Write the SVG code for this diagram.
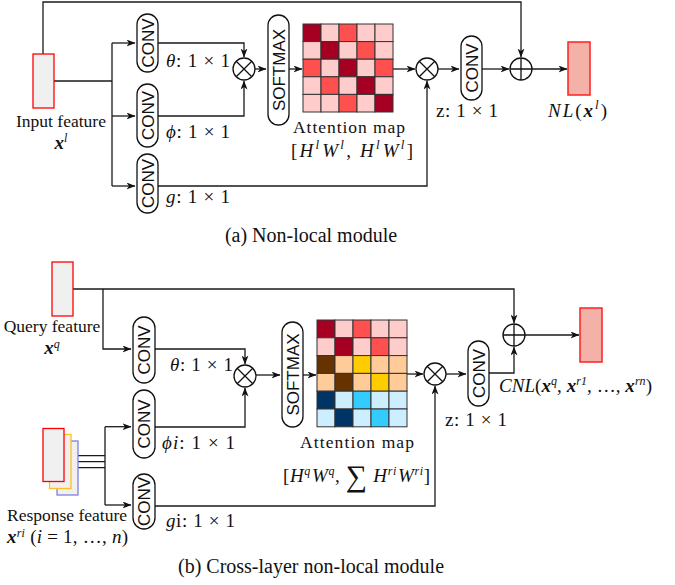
<svg xmlns="http://www.w3.org/2000/svg" width="675" height="585" viewBox="0 0 675 585">
<defs>
<marker id="ah" markerWidth="9" markerHeight="7" refX="8.5" refY="3.5" orient="auto" markerUnits="userSpaceOnUse"><path d="M0,0 L9,3.5 L0,7 L2.5,3.5 z" fill="#111"/></marker>
</defs>
<style>
.ln{fill:none;stroke:#1a1a1a;stroke-width:1.3}
.ar{marker-end:url(#ah)}
.pill{fill:#fff;stroke:#111;stroke-width:1.3}
.cv{font-family:"Liberation Sans",Arial,sans-serif;font-size:17px;fill:#111;text-anchor:middle}
.op{fill:#fff;stroke:#111;stroke-width:1.3}
.opl{stroke:#111;stroke-width:1.3}
.lbl{font-family:"Liberation Serif","Times New Roman",serif;font-size:17.5px;fill:#111;text-anchor:middle}
.cap{font-family:"Liberation Serif","Times New Roman",serif;font-size:20px;fill:#111;text-anchor:middle}
.m{font-family:"Liberation Serif","Times New Roman",serif;font-size:19px;fill:#111}
.i{font-style:italic}
.bi{font-style:italic;font-weight:bold}
.feat{fill:#f0f0f0;stroke:#ff0000;stroke-width:1.3}
.fy{fill:#f0f0f0;stroke:#ffc020;stroke-width:1.3}
.fb{fill:#f0f0f0;stroke:#8080e0;stroke-width:1.3}
.out{fill:#f4b1a8;stroke:#ff2020;stroke-width:1.5}
.grid rect{stroke:#333;stroke-width:1}
.D{fill:#a50021}.L{fill:#ffcccc}.M{fill:#ff5050}.B{fill:#663300}.P{fill:#ffcc99}.Y{fill:#ffcc00}.N{fill:#003366}.LB{fill:#cceeff}.C{fill:#33ccff}
</style>
<rect width="675" height="585" fill="#fff"/>

<!-- ===== (a) Non-local module ===== -->
<g id="connectors-a">
<path class="ln ar" d="M43,54 V2 H521 V57"/>
<path class="ln" d="M54,81 H112 M112,43 V186"/>
<path class="ln ar" d="M112,43 H135"/>
<path class="ln ar" d="M112,116 H135"/>
<path class="ln ar" d="M112,186 H135"/>
<path class="ln ar" d="M158,43 H244 V57"/>
<path class="ln ar" d="M158,116 H244 V81"/>
<path class="ln ar" d="M255,69 H266"/>
<path class="ln ar" d="M289,69 H302"/>
<path class="ln ar" d="M393,69 H415"/>
<path class="ln ar" d="M158,186 H427 V81"/>
<path class="ln ar" d="M438,69 H459"/>
<path class="ln ar" d="M482,69 H509"/>
<path class="ln ar" d="M532,69 H567"/>
</g>

<g id="input-a">
<rect class="feat" x="33" y="54" width="21" height="54"/>
<text class="lbl" x="61" y="127">Input feature</text>
<text class="lbl" x="61" y="149"><tspan class="bi" font-size="19">x</tspan><tspan class="i" font-size="12" dy="-7">l</tspan></text>
</g>

<g id="conv-theta-a">
<rect class="pill" x="137" y="14" width="21" height="58" rx="10.5"/>
<text class="cv" transform="translate(147.5,43) rotate(-90)" y="6">CONV</text>
<text class="m" x="166" y="67" textLength="64"><tspan class="i">θ</tspan>: 1 × 1</text>
</g>
<g id="conv-phi-a">
<rect class="pill" x="137" y="84" width="21" height="63" rx="10.5"/>
<text class="cv" transform="translate(147.5,115.5) rotate(-90)" y="6">CONV</text>
<text class="m" x="166" y="138" textLength="64"><tspan class="i">ϕ</tspan>: 1 × 1</text>
</g>
<g id="conv-g-a">
<rect class="pill" x="137" y="154" width="21" height="59" rx="10.5"/>
<text class="cv" transform="translate(147.5,183.5) rotate(-90)" y="6">CONV</text>
<text class="m" x="166" y="203" textLength="64"><tspan class="i">g</tspan>: 1 × 1</text>
</g>

<g id="mul1-a">
<circle class="op" cx="244" cy="69" r="11"/>
<path class="opl" d="M236.2,61.2 L251.8,76.8 M251.8,61.2 L236.2,76.8"/>
</g>

<g id="softmax-a">
<rect class="pill" x="268" y="15" width="21" height="110" rx="10.5"/>
<text class="cv" transform="translate(278.5,70) rotate(-90)" y="6">SOFTMAX</text>
</g>

<g id="attention-a">
<g class="grid">
<rect class="D" x="303" y="24" width="18" height="17.6"/><rect class="L" x="321" y="24" width="18" height="17.6"/><rect class="M" x="339" y="24" width="18" height="17.6"/><rect class="L" x="357" y="24" width="18" height="17.6"/><rect class="L" x="375" y="24" width="18" height="17.6"/>
<rect class="L" x="303" y="41.6" width="18" height="17.6"/><rect class="D" x="321" y="41.6" width="18" height="17.6"/><rect class="L" x="339" y="41.6" width="18" height="17.6"/><rect class="M" x="357" y="41.6" width="18" height="17.6"/><rect class="L" x="375" y="41.6" width="18" height="17.6"/>
<rect class="M" x="303" y="59.2" width="18" height="17.6"/><rect class="L" x="321" y="59.2" width="18" height="17.6"/><rect class="D" x="339" y="59.2" width="18" height="17.6"/><rect class="L" x="357" y="59.2" width="18" height="17.6"/><rect class="M" x="375" y="59.2" width="18" height="17.6"/>
<rect class="L" x="303" y="76.8" width="18" height="17.6"/><rect class="M" x="321" y="76.8" width="18" height="17.6"/><rect class="L" x="339" y="76.8" width="18" height="17.6"/><rect class="D" x="357" y="76.8" width="18" height="17.6"/><rect class="L" x="375" y="76.8" width="18" height="17.6"/>
<rect class="L" x="303" y="94.4" width="18" height="17.6"/><rect class="L" x="321" y="94.4" width="18" height="17.6"/><rect class="M" x="339" y="94.4" width="18" height="17.6"/><rect class="L" x="357" y="94.4" width="18" height="17.6"/><rect class="D" x="375" y="94.4" width="18" height="17.6"/>
</g>
<text class="lbl" x="349" y="133" font-size="20" textLength="112">Attention map</text>
<text class="m" x="291" y="157" font-size="20" textLength="122">[<tspan class="i">H</tspan><tspan class="i" font-size="13" dy="-8">l</tspan><tspan class="i" dy="8" dx="1">W</tspan><tspan class="i" font-size="13" dy="-8">l</tspan><tspan dy="8">, </tspan><tspan class="i">H</tspan><tspan class="i" font-size="13" dy="-8">l</tspan><tspan class="i" dy="8" dx="1">W</tspan><tspan class="i" font-size="13" dy="-8">l</tspan><tspan dy="8">]</tspan></text>
</g>

<g id="mul2-a">
<circle class="op" cx="427" cy="69" r="11"/>
<path class="opl" d="M419.2,61.2 L434.8,76.8 M434.8,61.2 L419.2,76.8"/>
</g>

<g id="conv-z-a">
<rect class="pill" x="461" y="36" width="21" height="64" rx="10.5"/>
<text class="cv" transform="translate(471.5,68) rotate(-90)" y="6">CONV</text>
<text class="m" x="436" y="117" textLength="62">z: 1 × 1</text>
</g>

<g id="add-a">
<circle class="op" cx="521" cy="69" r="11"/>
<path class="opl" d="M510,69 H532 M521,58 V80"/>
</g>

<g id="output-a">
<rect class="out" x="568" y="42" width="22" height="53"/>
<text class="m" x="548" y="117" font-size="20" textLength="59"><tspan class="i">NL</tspan>(<tspan class="bi">x</tspan><tspan class="i" font-size="13" dy="-8">l</tspan><tspan dy="8">)</tspan></text>
</g>

<text class="cap" x="311" y="242">(a) Non-local module</text>

<!-- ===== (b) Cross-layer non-local module ===== -->
<g id="connectors-b">
<path class="ln ar" d="M73,289 H514 V323"/>
<path class="ln ar" d="M103,289 V349 H131"/>
<path class="ln" d="M64,455.7 H105 M71,461.7 H105 M78,467.7 H105 M105,468 V505"/>
<path class="ln" stroke-width="2" d="M105,468 V426.7"/>
<path class="ln ar" stroke-width="2" d="M105,426.7 H131"/>
<path class="ln ar" d="M105,505 H131"/>
<path class="ln ar" d="M155,349 H245 V364"/>
<path class="ln ar" d="M155,427 H245 V388"/>
<path class="ln ar" d="M256,375 H280"/>
<path class="ln ar" d="M303,375 H316"/>
<path class="ln ar" d="M407,374 H423"/>
<path class="ln ar" d="M155,506 H435 V386"/>
<path class="ln ar" d="M446,374 H466"/>
<path class="ln ar" d="M489,373 H514 V347"/>
<path class="ln ar" d="M525,335 H579"/>
</g>

<g id="query-b">
<rect class="feat" x="52" y="262" width="21" height="54"/>
<text class="lbl" x="52" y="332">Query feature</text>
<text class="lbl" x="52" y="354"><tspan class="bi" font-size="19">x</tspan><tspan class="i" font-size="12" dy="-6">q</tspan></text>
</g>

<g id="response-b">
<rect class="fb" x="57" y="441" width="21" height="54"/>
<rect class="fy" x="49.5" y="434.5" width="21.5" height="54"/>
<rect class="feat" x="43" y="428.5" width="21" height="53"/>
<text class="lbl" x="67" y="521">Response feature</text>
<text class="m" x="7" y="543" textLength="121" font-size="18"><tspan class="bi">x</tspan><tspan class="i" font-size="12" dy="-6">ri</tspan><tspan dy="6"> (</tspan><tspan class="i">i</tspan>  = 1, …, <tspan class="i">n</tspan>)</text>
</g>

<g id="conv-theta-b">
<rect class="pill" x="133" y="317" width="22" height="66" rx="11"/>
<text class="cv" transform="translate(144,350) rotate(-90)" y="6">CONV</text>
<text class="m" x="170" y="371" textLength="63"><tspan class="i">θ</tspan>: 1 × 1</text>
</g>
<g id="conv-phi-b">
<rect class="pill" x="133" y="390" width="22" height="68" rx="11"/>
<text class="cv" transform="translate(144,424) rotate(-90)" y="6">CONV</text>
<text class="m" x="162" y="449" textLength="73"><tspan class="i">ϕi</tspan>: 1 × 1</text>
</g>
<g id="conv-g-b">
<rect class="pill" x="133" y="474" width="22" height="55" rx="11"/>
<text class="cv" transform="translate(144,501.5) rotate(-90)" y="6">CONV</text>
<text class="m" x="166" y="527" textLength="69"><tspan class="i">g</tspan>i: 1 × 1</text>
</g>

<g id="mul1-b">
<circle class="op" cx="245" cy="376" r="11"/>
<path class="opl" d="M237.2,368.2 L252.8,383.8 M252.8,368.2 L237.2,383.8"/>
</g>

<g id="softmax-b">
<rect class="pill" x="282" y="322" width="21" height="105" rx="10.5"/>
<text class="cv" transform="translate(292.5,374.5) rotate(-90)" y="6">SOFTMAX</text>
</g>

<g id="attention-b">
<g class="grid">
<rect class="D" x="317" y="320" width="18" height="17.8"/><rect class="L" x="335" y="320" width="18" height="17.8"/><rect class="M" x="353" y="320" width="18" height="17.8"/><rect class="L" x="371" y="320" width="18" height="17.8"/><rect class="L" x="389" y="320" width="18" height="17.8"/>
<rect class="L" x="317" y="337.8" width="18" height="17.8"/><rect class="D" x="335" y="337.8" width="18" height="17.8"/><rect class="L" x="353" y="337.8" width="18" height="17.8"/><rect class="M" x="371" y="337.8" width="18" height="17.8"/><rect class="L" x="389" y="337.8" width="18" height="17.8"/>
<rect class="B" x="317" y="355.6" width="18" height="17.8"/><rect class="P" x="335" y="355.6" width="18" height="17.8"/><rect class="Y" x="353" y="355.6" width="18" height="17.8"/><rect class="P" x="371" y="355.6" width="18" height="17.8"/><rect class="P" x="389" y="355.6" width="18" height="17.8"/>
<rect class="P" x="317" y="373.4" width="18" height="17.8"/><rect class="B" x="335" y="373.4" width="18" height="17.8"/><rect class="P" x="353" y="373.4" width="18" height="17.8"/><rect class="Y" x="371" y="373.4" width="18" height="17.8"/><rect class="P" x="389" y="373.4" width="18" height="17.8"/>
<rect class="N" x="317" y="391.2" width="18" height="17.8"/><rect class="LB" x="335" y="391.2" width="18" height="17.8"/><rect class="C" x="353" y="391.2" width="18" height="17.8"/><rect class="LB" x="371" y="391.2" width="18" height="17.8"/><rect class="LB" x="389" y="391.2" width="18" height="17.8"/>
<rect class="LB" x="317" y="409" width="18" height="17.8"/><rect class="N" x="335" y="409" width="18" height="17.8"/><rect class="LB" x="353" y="409" width="18" height="17.8"/><rect class="C" x="371" y="409" width="18" height="17.8"/><rect class="LB" x="389" y="409" width="18" height="17.8"/>
</g>
<text class="lbl" x="357" y="448" font-size="20" textLength="114">Attention map</text>
<text class="m" x="283" y="482" font-size="19" textLength="147">[<tspan class="i">H</tspan><tspan class="i" font-size="12" dy="-7">q</tspan><tspan class="i" dy="7" dx="1">W</tspan><tspan class="i" font-size="12" dy="-7">q</tspan><tspan dy="7">, </tspan><tspan font-size="30" dy="4">∑</tspan><tspan class="i" dy="-4"> H</tspan><tspan class="i" font-size="12" dy="-7">ri</tspan><tspan class="i" dy="7" dx="1">W</tspan><tspan class="i" font-size="12" dy="-7">ri</tspan><tspan dy="7">]</tspan></text>
</g>

<g id="mul2-b">
<circle class="op" cx="435" cy="374" r="11"/>
<path class="opl" d="M427.2,366.2 L442.8,381.8 M442.8,366.2 L427.2,381.8"/>
</g>

<g id="conv-z-b">
<rect class="pill" x="468" y="341" width="21" height="65" rx="10.5"/>
<text class="cv" transform="translate(478.5,373.5) rotate(-90)" y="6">CONV</text>
<text class="m" x="445" y="426" textLength="62">z: 1 × 1</text>
</g>

<g id="add-b">
<circle class="op" cx="514" cy="335" r="11"/>
<path class="opl" d="M503,335 H525 M514,324 V346"/>
</g>

<g id="output-b">
<rect class="out" x="580" y="308" width="22" height="54"/>
<text class="m" x="499" y="392" font-size="19.5" textLength="153"><tspan class="i">CNL</tspan>(<tspan class="bi">x</tspan><tspan class="i" font-size="12" dy="-7">q</tspan><tspan dy="7">, </tspan><tspan class="bi">x</tspan><tspan class="i" font-size="12" dy="-7">r1</tspan><tspan dy="7">, …, </tspan><tspan class="bi">x</tspan><tspan class="i" font-size="12" dy="-7">rn</tspan><tspan dy="7">)</tspan></text>
</g>

<text class="cap" x="311" y="573">(b) Cross-layer non-local module</text>
</svg>
